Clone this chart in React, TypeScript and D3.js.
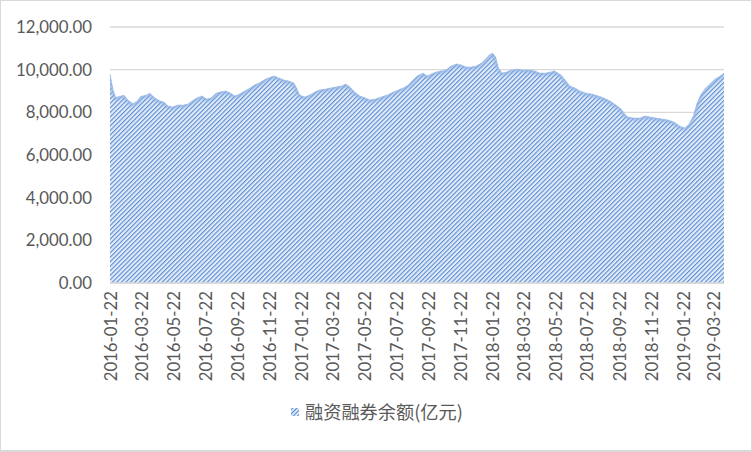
import React from "react";
import * as d3 from "d3";

const dates: string[] = [
  "2016-01-22","2016-01-28","2016-02-02","2016-02-10","2016-02-18","2016-02-25","2016-03-06","2016-03-14","2016-03-21","2016-03-31",
  "2016-04-07","2016-04-17","2016-04-27","2016-05-04","2016-05-12","2016-05-21","2016-05-31","2016-06-11","2016-06-19","2016-06-27",
  "2016-07-06","2016-07-16","2016-07-25","2016-08-02","2016-08-12","2016-08-19","2016-08-31","2016-09-09","2016-09-17","2016-09-26",
  "2016-10-06","2016-10-16","2016-10-25","2016-11-06","2016-11-15","2016-11-25","2016-12-02","2016-12-10","2016-12-20","2016-12-29",
  "2017-01-08","2017-01-13","2017-01-19","2017-01-29","2017-02-07","2017-02-17","2017-02-26","2017-03-10","2017-03-19","2017-03-29",
  "2017-04-09","2017-04-17","2017-04-25","2017-05-04","2017-05-14","2017-05-25","2017-06-02","2017-06-13","2017-06-24","2017-07-06",
  "2017-07-17","2017-07-27","2017-08-05","2017-08-15","2017-08-22","2017-09-01","2017-09-12","2017-09-20","2017-09-28","2017-10-07",
  "2017-10-17","2017-10-26","2017-11-05","2017-11-15","2017-11-24","2017-12-04","2017-12-13","2017-12-23","2018-01-02","2018-01-10",
  "2018-01-17","2018-01-23","2018-01-29","2018-02-04","2018-02-11","2018-02-19","2018-02-28","2018-03-12","2018-03-23","2018-04-04",
  "2018-04-14","2018-04-23","2018-05-05","2018-05-14","2018-05-22","2018-05-28","2018-06-03","2018-06-11","2018-06-20","2018-06-30",
  "2018-07-09","2018-07-21","2018-08-01","2018-08-13","2018-08-24","2018-09-05","2018-09-16","2018-09-26","2018-10-03","2018-10-09",
  "2018-10-21","2018-11-01","2018-11-11","2018-11-20","2018-12-02","2018-12-13","2018-12-25","2019-01-05","2019-01-16","2019-01-26",
  "2019-02-03","2019-02-11","2019-02-18","2019-02-26","2019-03-07","2019-03-15","2019-03-25","2019-04-04","2019-04-11",
];

const balance: number[] = [
  9800, 9050, 8700, 8750, 8800, 8580, 8400, 8530, 8750, 8800,
  8900, 8670, 8530, 8480, 8300, 8250, 8340, 8340, 8390, 8530,
  8670, 8770, 8620, 8670, 8900, 8950, 9000, 8900, 8770, 8860,
  9000, 9140, 9280, 9420, 9560, 9660, 9700, 9610, 9510, 9470,
  9375, 9140, 8810, 8720, 8810, 8950, 9050, 9090, 9140, 9190,
  9230, 9330, 9190, 8950, 8770, 8670, 8580, 8620, 8720, 8810,
  8950, 9050, 9140, 9280, 9470, 9700, 9840, 9700, 9800, 9890,
  9940, 9980, 10170, 10270, 10220, 10120, 10120, 10170, 10310, 10500,
  10690, 10780, 10590, 10030, 9840, 9890, 9980, 10030, 9980, 9980,
  9940, 9840, 9840, 9890, 9940, 9840, 9750, 9510, 9230, 9140,
  9000, 8900, 8860, 8770, 8670, 8530, 8340, 8160, 7920, 7780,
  7730, 7730, 7830, 7780, 7730, 7690, 7640, 7550, 7360, 7270,
  7450, 7800, 8400, 8850, 9140, 9330, 9560, 9700, 9840,
];

const yTicks: number[] = [0, 2000, 4000, 6000, 8000, 10000, 12000];
const xTickLabels: string[] = [
  "2016-01-22","2016-03-22","2016-05-22","2016-07-22","2016-09-22","2016-11-22",
  "2017-01-22","2017-03-22","2017-05-22","2017-07-22","2017-09-22","2017-11-22",
  "2018-01-22","2018-03-22","2018-05-22","2018-07-22","2018-09-22","2018-11-22",
  "2019-01-22","2019-03-22",
];
const seriesName = "融资融券余额(亿元)";

const W = 752, H = 452;
const left = 110, right = 724, top = 27, bottom = 283;

export default function App() {
  const parse = d3.timeParse("%Y-%m-%d");
  const data = dates.map((d, i) => ({ date: parse(d) as Date, v: balance[i] }));
  const x = d3.scaleTime()
    .domain([parse(dates[0]) as Date, parse(dates[dates.length - 1]) as Date])
    .range([left, right]);
  const y = d3.scaleLinear().domain([0, 12000]).range([bottom, top]);
  const area = d3.area<{ date: Date; v: number }>()
    .x(d => x(d.date)).y0(y(0)).y1(d => y(d.v));
  const line = d3.line<{ date: Date; v: number }>()
    .x(d => x(d.date)).y(d => y(d.v));
  const fmt = d3.format(",.2f");
  const font = "Lato, 'Open Sans', sans-serif";

  return (
    <svg width={W} height={H} style={{ position: "absolute", left: 0, top: 0, background: "#fff" }}>
      <defs>
        <pattern id="hatch" width="3.2" height="3.2" patternUnits="userSpaceOnUse" patternTransform="rotate(45)">
          <rect width="3.2" height="3.2" fill="#e2ecf9" />
          <rect x="0" y="0" width="1.1" height="3.2" fill="#5a8bd0" />
        </pattern>
        <pattern id="hatchL" width="3" height="3" patternUnits="userSpaceOnUse" patternTransform="rotate(45)">
          <rect width="3" height="3" fill="#e2ecf9" />
          <rect x="0" y="0" width="1.1" height="3" fill="#5a8bd0" />
        </pattern>
        <filter id="glow" x="-5%" y="-20%" width="110%" height="140%">
          <feGaussianBlur stdDeviation="1.5" />
        </filter>
        <clipPath id="clipA">
          <path d={area(data) || ""} />
        </clipPath>
      </defs>
      <rect x={0.5} y={0.5} width={W - 1} height={H - 2} fill="#fff" stroke="#d9d9d9" strokeWidth={1} />
      <line x1={0} x2={W} y1={H - 1} y2={H - 1} stroke="#d9d9d9" strokeWidth={2} />
      {yTicks.map(t => (
        <g key={t}>
          <line x1={left} x2={right} y1={y(t)} y2={y(t)} stroke="#d9d9d9" strokeWidth={1.3} />
          <text x={92} y={y(t)} dy="0.35em" textAnchor="end" fontFamily={font} fontSize={16.8} fill="#595959">
            {fmt(t)}
          </text>
        </g>
      ))}
      <path d={area(data) || ""} fill="url(#hatch)" />
      <g clipPath="url(#clipA)">
        <path d={line(data) || ""} fill="none" stroke="#8fb3e6" strokeWidth={5} filter="url(#glow)" opacity={0.8} />
      </g>
      <path d={line(data) || ""} fill="none" stroke="#9dbbe6" strokeWidth={0.8} opacity={0.7} />
      <line x1={left} x2={right} y1={bottom} y2={bottom} stroke="#d9d9d9" strokeWidth={1.3} />
      {xTickLabels.map(s => {
        const px = x(parse(s) as Date);
        return (
          <text key={s} transform={`translate(${px + 1},${291}) rotate(-90)`} textAnchor="end" dy="0.35em"
            fontFamily={font} fontSize={16.8} fill="#595959">
            {s}
          </text>
        );
      })}
      <g>
        <rect x={291} y={408} width={8} height={8} fill="url(#hatchL)" />
        <text x={305} y={413} dy="0.35em" fontFamily="'Noto Sans CJK SC', sans-serif" fontSize={18.2} fill="#595959">
          {seriesName}
        </text>
      </g>
    </svg>
  );
}
